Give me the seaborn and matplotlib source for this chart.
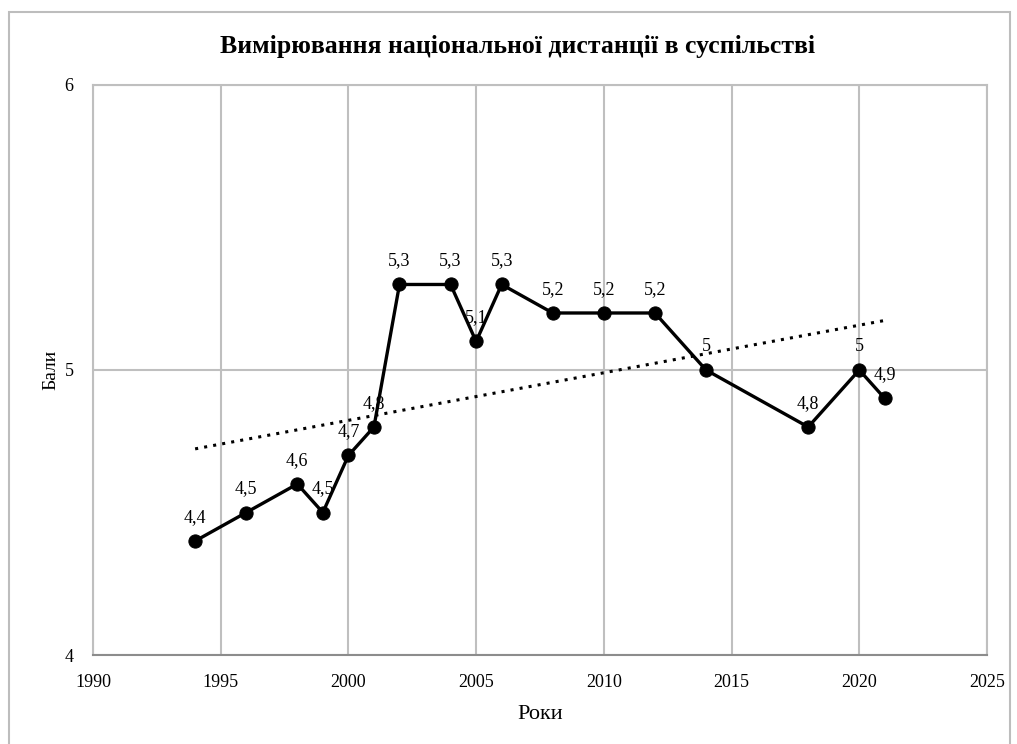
import numpy as np
import pandas as pd
import matplotlib.pyplot as plt
import matplotlib.patches as mpatches
import seaborn as sns

# -----------------------------
# Data
# -----------------------------
years = [1994, 1996, 1998, 1999, 2000, 2001, 2002, 2004, 2005, 2006,
         2008, 2010, 2012, 2014, 2018, 2020, 2021]
scores = [4.4, 4.5, 4.6, 4.5, 4.7, 4.8, 5.3, 5.3, 5.1, 5.3,
          5.2, 5.2, 5.2, 5.0, 4.8, 5.0, 4.9]

title = "Вимірювання національної дистанції в суспільстві"
x_label = "Роки"
y_label = "Бали"
x_ticks = [1990, 1995, 2000, 2005, 2010, 2015, 2020, 2025]
y_ticks = [4, 5, 6]

df = pd.DataFrame({"year": years, "score": scores})

sns.set_style("white")
plt.rcParams["font.family"] = ["Liberation Serif", "DejaVu Serif"]
plt.rcParams["text.color"] = "black"
plt.rcParams["axes.labelcolor"] = "black"
plt.rcParams["xtick.color"] = "black"
plt.rcParams["ytick.color"] = "black"

fig = plt.figure(figsize=(10.17, 7.44), dpi=100)
ax = fig.add_axes([0.0914, 0.1196, 0.8791, 0.7662])

# outer chart frame
fig.patches.append(mpatches.Rectangle((0.009, -0.01), 0.984, 0.994,
                                      transform=fig.transFigure, fill=False,
                                      edgecolor="#bdbdbd", linewidth=1.5))

# dotted linear trendline
sns.regplot(data=df, x="year", y="score", ax=ax, scatter=False, ci=None,
            line_kws=dict(color="black", linestyle=(0, (1, 2)), linewidth=2.2))

sns.lineplot(data=df, x="year", y="score", ax=ax, color="black",
             linewidth=2.4, marker="o", markersize=9.5,
             markeredgecolor="black")

for x, y in zip(years, scores):
    lab = f"{y:g}".replace(".", ",")
    ax.annotate(lab, (x, y), xytext=(0, 11), textcoords="offset points",
                ha="center", va="bottom", fontsize=13)

ax.set_xlim(1990, 2025)
ax.set_ylim(4, 6)
ax.set_xticks(x_ticks)
ax.set_yticks(y_ticks)
ax.grid(True, color="#bfbfbf", linewidth=1.5)
ax.set_axisbelow(True)
for side in ["top", "right", "left"]:
    ax.spines[side].set_color("#bfbfbf")
    ax.spines[side].set_linewidth(1.5)
ax.spines["bottom"].set_color("#8c8c8c")
ax.spines["bottom"].set_linewidth(1.5)
ax.tick_params(axis="both", length=0)
ax.tick_params(axis="x", pad=14, labelsize=13)
ax.tick_params(axis="y", pad=14, labelsize=13)

ax.set_xlabel(x_label, fontsize=16, labelpad=10)
ax.set_ylabel(y_label, fontsize=14, labelpad=4)
fig.text(0.5085, 0.938, title, ha="center", va="center",
         fontsize=18.5, fontweight="bold")

fig.savefig("out.png", dpi=100)
